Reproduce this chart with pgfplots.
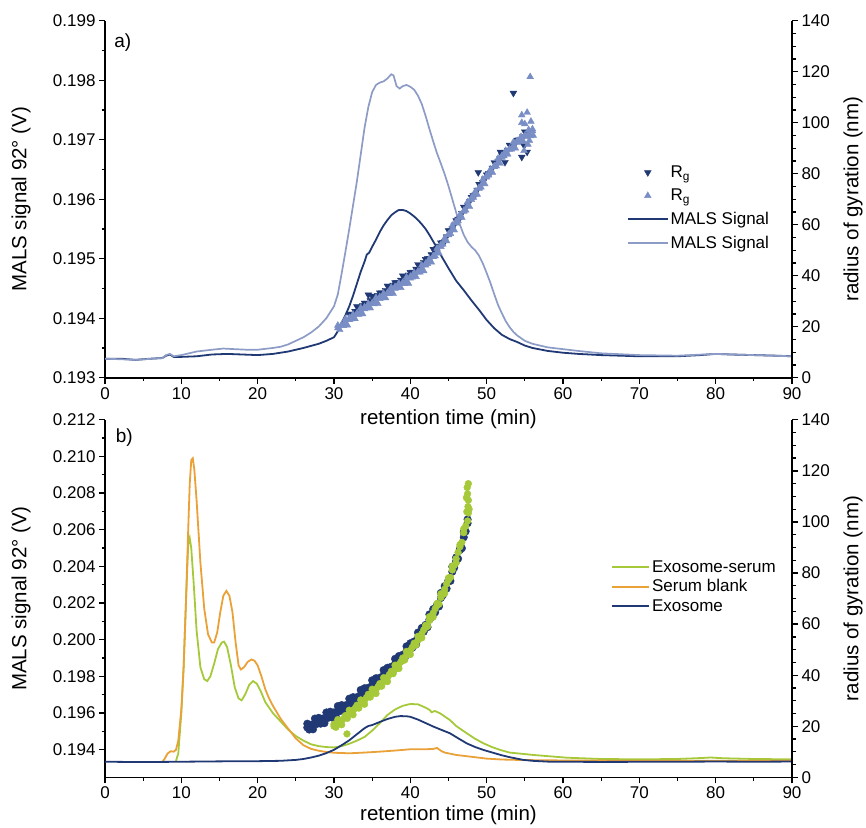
\documentclass[border=0pt]{standalone}
\usepackage{fontspec}
\setmainfont{Liberation Sans}
\usepackage{pgfplots}
\pgfplotsset{compat=1.18}
\definecolor{dkblue}{RGB}{32,57,116}
\definecolor{ltline}{RGB}{140,156,198}
\definecolor{ltmark}{RGB}{122,142,198}
\definecolor{grn}{RGB}{166,201,58}
\definecolor{orng}{RGB}{233,161,56}
\pgfplotsset{legend image code/.code={\draw[mark repeat=2,mark phase=2,#1] plot coordinates {(0pt,0pt) (20pt,0pt) (40pt,0pt)};}}
\pgfplotsset{
  base/.style={
    scale only axis, width=687pt,
    xmin=0, xmax=90,
    /pgf/number format/assume math mode=true,
    tick label style={font=\fontsize{17}{19}\selectfont},
    label style={font=\fontsize{20.5}{23}\selectfont},
    tick align=outside,
    major tick length=6pt, minor tick length=3.5pt,
    every tick/.style={black, line width=1.3pt},
    axis line style={black, line width=1.6pt},
    scaled y ticks=false,
  },
  leftax/.style={base,
    axis x line*=bottom, axis y line*=left,
    xtick={0,10,...,90}, minor x tick num=1,
    xlabel={retention time (min)},
    ylabel={MALS signal 92° (V)},
    ylabel style={at={(axis description cs:-0.122,0.5)}, anchor=center},
    yticklabel style={/pgf/number format/.cd, fixed, fixed zerofill, precision=3},
  },
  rightax/.style={base,
    axis x line=none, axis y line*=right,
    ymin=0, ymax=140, ytick={0,20,...,140}, minor y tick num=3,
    ylabel={radius of gyration (nm)},
    ylabel style={at={(axis description cs:1.089,0.5)}, anchor=center},
  },
}
\begin{document}
\begin{tikzpicture}
\path[use as bounding box] (0pt,0pt) rectangle (866pt,-827pt);
% ---------------- panel a ----------------
\begin{axis}[leftax, at={(105pt,-377.7pt)}, anchor=south west, height=357pt,
  ymin=0.193, ymax=0.199, ytick={0.193,0.194,0.195,0.196,0.197,0.198,0.199}, minor y tick num=1,
  xlabel style={at={(axis description cs:0.5,-0.117)}, anchor=center}]
\node[font=\fontsize{19}{21}\selectfont] at (axis description cs:0.026,0.94) {a)};
\addplot[dkblue, line width=1.8pt] coordinates {
(0,0.19332) (2,0.19332) (4,0.19330) (6,0.19332) (7.5,0.19333) (8,0.19337) (8.5,0.19339) (9,0.19335)
(10,0.19335) (12,0.19336) (14,0.19339) (16,0.19340) (18,0.19339) (20,0.19338) (22,0.19340) (24,0.19344)
(26,0.19350) (28,0.19357) (29,0.19362) (30,0.19368) (30.5,0.19378) (31,0.19392) (31.5,0.19405) (32,0.19420)
(32.5,0.19438) (33,0.19458) (33.5,0.19478) (34,0.19495) (34.3,0.19507) (34.6,0.19510) (35,0.19520) (35.5,0.19532)
(36,0.19545) (36.5,0.19556) (37,0.19565) (37.5,0.19573) (38,0.19578) (38.5,0.19582) (39,0.19582) (39.5,0.19580)
(40,0.19576) (40.5,0.19571) (41,0.19565) (41.5,0.19558) (42,0.19550) (42.5,0.19540) (43,0.19529) (43.5,0.19518)
(44,0.19506) (45,0.19484) (46,0.19463) (47,0.19447) (48,0.19430) (49,0.19414) (50,0.19397) (51,0.19383)
(52,0.19372) (53,0.19365) (54,0.19360) (55,0.19354) (56,0.19350) (58,0.19345) (60,0.19342) (62,0.19340)
(65,0.19338) (70,0.19336) (75,0.19336) (78,0.19338) (80,0.19340) (82,0.19339) (85,0.19338) (88,0.19337) (90,0.19336)};
\addplot[ltline, line width=1.7pt] coordinates {
(0,0.19332) (4,0.19330) (7.5,0.19333) (8,0.19338) (8.5,0.19340) (9,0.19336) (10,0.19338) (12,0.19344)
(14,0.19347) (15.5,0.19349) (17,0.19348) (18.6,0.19347) (20,0.19347) (22,0.19350) (23,0.19352) (24,0.19356)
(25,0.19362) (26,0.19368) (27,0.19376) (28,0.19386) (29,0.19400) (30,0.19420) (30.5,0.19440) (31,0.19475)
(31.5,0.19512) (32,0.19550) (32.5,0.19590) (33,0.19630) (33.5,0.19675) (34,0.19720) (34.5,0.19755) (35,0.19780)
(35.5,0.19792) (36,0.19796) (36.5,0.19798) (37,0.19803) (37.5,0.19810) (37.8,0.19808) (38.2,0.19790) (38.6,0.19786)
(39,0.19790) (39.5,0.19792) (40,0.19789) (40.5,0.19784) (41,0.19774) (41.5,0.19760) (42,0.19740) (42.5,0.19718)
(43,0.19697) (43.5,0.19677) (44,0.19660) (44.5,0.19642) (45,0.19622) (45.5,0.19600) (46,0.19578) (46.5,0.19557)
(47,0.19540) (47.5,0.19528) (48,0.19520) (48.5,0.19514) (49,0.19505) (49.5,0.19492) (50,0.19476) (50.5,0.19459)
(51,0.19440) (51.5,0.19422) (52,0.19408) (52.5,0.19395) (53,0.19385) (53.5,0.19377) (54,0.19371) (55,0.19362)
(56,0.19357) (58,0.19351) (60,0.19348) (62,0.19345) (65,0.19341) (70,0.19338) (75,0.19337) (80,0.19340) (85,0.19338) (90,0.19336)};
\end{axis}
\begin{axis}[rightax, at={(105pt,-377.7pt)}, anchor=south west, height=357pt,
  legend style={draw=none, fill=none, font=\fontsize{17}{19}\selectfont, legend cell align=left,
    at={(axis description cs:0.755,0.605)}, anchor=north west, row sep=6pt}]
\addplot[only marks, mark=triangle*, mark size=3.9pt, mark options={rotate=180, draw=dkblue, fill=dkblue}, dkblue] coordinates {
(32,25.0) (32.5,24.8) (33,27.9) (33.5,27.5) (34,29.3) (34.5,29.0) (35,32.0) (35.5,31.5) (36,33.3) (36.5,33.0)
(37,36.0) (37.5,35.5) (38,37.3) (38.5,37.0) (39,40.0) (39.5,39.5) (40,41.3) (40.5,41.2) (41,44.4) (41.5,44.2)
(42,46.4) (42.5,46.7) (43,50.4) (43.5,50.8) (44,52.9) (44.5,53.4) (45,57.7) (45.5,58.5) (46,61.6) (46.5,62.6)
(47,66.9) (47.5,67.7) (48,70.8) (48.5,71.7) (49,75.9) (49.5,76.6) (50,79.6) (50.5,80.4) (51,84.4) (51.5,84.8)
(52,87.4) (52.5,87.7) (53,91.2) (53.5,91.1) (54,93.2) (54.5,93.2) (55,96.4) (55.5,96.0)
(32.25,25.0) (32.75,26.1) (33.25,27.2) (33.75,28.3) (34.25,29.3) (34.75,30.3) (35.25,31.3) (35.75,32.3) (36.25,33.3)
(36.75,34.3) (37.25,35.3) (37.75,36.3) (38.25,37.3) (38.75,38.3) (39.25,39.3) (39.75,40.3) (40.25,41.4) (40.75,42.6)
(41.25,43.8) (41.75,45.2) (42.25,46.7) (42.75,48.3) (43.25,50.1) (43.75,51.6) (44.25,53.0) (44.75,55.3) (45.25,57.6)
(45.75,59.9) (46.25,62.2) (46.75,64.5) (47.25,66.8) (47.75,69.1) (48.25,71.4) (48.75,73.6) (49.25,75.8) (49.75,78.0)
(50.25,80.1) (50.75,82.2) (51.25,84.1) (51.75,86.0) (52.25,87.7) (52.75,89.3) (53.25,90.7) (53.75,92.0) (54.25,93.3)
(54.75,94.6) (55.25,95.8)
(53.5,111.6) (48.9,80.5) (51.8,88.5) (54.6,86.5) (55.3,88.5) (54.9,91.0) (52.4,84.5) (34.5,32.5)};
\addlegendentry{R\textsubscript{g}}
\addplot[only marks, mark=triangle*, mark size=3.9pt, mark options={draw=ltmark, fill=ltmark}, ltmark] coordinates {
(30.5,20.5) (30.75,18.8) (31,20.8) (31.25,20.4) (31.5,23.0) (31.75,20.6) (32,23.4) (32.25,23.0) (32.5,24.8) (32.75,23.1)
(33,25.2) (33.25,24.8) (33.5,27.4) (33.75,25.0) (34,27.7) (34.25,27.3) (34.5,29.0) (34.75,27.3) (35,29.3) (35.25,28.9)
(35.5,31.4) (35.75,29.0) (36,31.7) (36.25,31.3) (36.5,33.0) (36.75,31.3) (37,33.3) (37.25,32.9) (37.5,35.4) (37.75,33.0)
(38,35.7) (38.25,35.3) (38.5,37.0) (38.75,35.3) (39,37.3) (39.25,36.9) (39.5,39.4) (39.75,37.0) (40,39.7) (40.25,39.4)
(40.5,41.2) (40.75,39.6) (41,41.7) (41.25,41.4) (41.5,44.1) (41.75,41.9) (42,44.8) (42.25,44.7) (42.5,46.7) (42.75,45.3)
(43,47.7) (43.25,47.7) (43.5,50.7) (43.75,48.8) (44,52.1) (44.25,52.3) (44.5,54.7) (44.75,53.6) (45,56.3) (45.25,56.5)
(45.5,59.7) (45.75,57.9) (46,61.3) (46.25,61.5) (46.5,63.9) (46.75,62.8) (47,65.5) (47.25,65.7) (47.5,68.9) (47.75,67.1)
(48,70.5) (48.25,70.7) (48.5,73.0) (48.75,71.9) (49,74.5) (49.25,74.7) (49.5,77.8) (49.75,76.0) (50,79.3) (50.25,79.4)
(50.5,81.7) (50.75,80.5) (51,83.0) (51.25,83.0) (51.5,86.0) (51.75,84.0) (52,87.1) (52.25,87.0) (52.5,89.0) (52.75,87.6)
(53,89.8) (53.25,89.6) (53.5,92.3) (53.75,90.0) (54,92.9) (54.25,92.6) (54.5,94.5) (54.75,92.9) (55,95.0) (55.25,94.6)
(55.5,97.2) (55.75,94.8) (56,97.5)
(30.5,19.5) (31,20.5) (31.5,21.6) (32,22.7) (32.5,23.8) (33,24.9) (33.5,26.0) (34,27.0) (34.5,28.0) (35,29.0)
(35.5,30.0) (36,31.0) (36.5,32.0) (37,33.0) (37.5,34.0) (38,35.0) (38.5,36.0) (39,37.0) (39.5,38.0) (40,39.0)
(40.5,40.2) (41,41.4) (41.5,42.7) (42,44.1) (42.5,45.7) (43,47.4) (43.5,49.3) (44,51.4) (44.5,53.7) (45,56.0)
(45.5,58.3) (46,60.6) (46.5,62.9) (47,65.2) (47.5,67.5) (48,69.8) (48.5,72.0) (49,74.2) (49.5,76.4) (50,78.6)
(50.5,80.7) (51,82.7) (51.5,84.6) (52,86.4) (52.5,88.0) (53,89.5) (53.5,90.9) (54,92.2) (54.5,93.5) (55,94.7)
(55.5,95.8) (56,96.8)
(55.7,118.0) (55.3,104.0) (54.6,103.0) (54.6,100.0) (55.0,99.5) (55.8,100.5) (56.1,95.0) (55.4,91.5) (54.9,89.0) (55.6,93.0)};
\addlegendentry{R\textsubscript{g}}
\addlegendimage{dkblue, line width=1.8pt}
\addlegendentry{MALS Signal}
\addlegendimage{ltline, line width=1.7pt}
\addlegendentry{MALS Signal}
\end{axis}
% ---------------- panel b ----------------
\begin{axis}[leftax, at={(105pt,-777.3pt)}, anchor=south west, height=357.5pt,
  ymin=0.1925, ymax=0.212, ytick={0.194,0.196,0.198,0.200,0.202,0.204,0.206,0.208,0.210,0.212}, minor y tick num=1,
  xlabel style={at={(axis description cs:0.5,-0.107)}, anchor=center},
  legend style={draw=none, fill=none, font=\fontsize{17}{19}\selectfont, legend cell align=left,
    at={(axis description cs:0.732,0.6185)}, anchor=north west, row sep=2pt},
  legend image code/.code={\draw[#1, line width=2pt] (0pt,0pt) -- (37pt,0pt);}]
\node[font=\fontsize{19}{21}\selectfont] at (axis description cs:0.028,0.949) {b)};
\addplot[grn, line width=1.8pt] coordinates {
(9.3,0.19340) (9.6,0.19380) (10.0,0.19600) (10.3,0.19850) (10.6,0.20200) (10.9,0.20520) (11.1,0.20555) (11.3,0.20500)
(11.6,0.20320) (12.0,0.20050) (12.5,0.19850) (13.0,0.19785) (13.4,0.19775) (13.8,0.19800) (14.3,0.19870) (14.8,0.19950)
(15.3,0.19985) (15.6,0.19990) (16.0,0.19960) (16.5,0.19860) (17.0,0.19740) (17.5,0.19680) (17.9,0.19670) (18.4,0.19705)
(18.9,0.19755) (19.4,0.19775) (19.9,0.19760) (20.4,0.19720) (21.0,0.19660) (22.0,0.19600) (23.0,0.19555) (24.0,0.19510)
(25.0,0.19475) (26.0,0.19450) (27.0,0.19430) (28.0,0.19420) (29.0,0.19415) (30.0,0.19413) (31.0,0.19420) (32.0,0.19433)
(33.0,0.19450) (34.0,0.19470) (35.0,0.19505) (36.0,0.19545) (37.0,0.19590) (38.0,0.19620) (39.0,0.19640) (40.0,0.19650)
(41.0,0.19648) (42.0,0.19630) (42.5,0.19618) (42.8,0.19605) (43.2,0.19612) (43.9,0.19599) (45.2,0.19562) (46.0,0.19530)
(47.4,0.19490) (48.5,0.19460) (49.6,0.19435) (50.7,0.19415) (51.8,0.19399) (53.0,0.19385) (56.1,0.19372) (60.5,0.19357)
(65.0,0.19350) (70.0,0.19348) (75.0,0.19350) (78.0,0.19355) (79.3,0.19358) (81.0,0.19354) (85.0,0.19350) (90.0,0.19348)};
\addlegendentry{Exosome-serum}
\addplot[orng, line width=1.8pt] coordinates {
(7.5,0.19335) (7.8,0.19350) (8.2,0.19380) (8.6,0.19392) (9.0,0.19390) (9.3,0.19400) (9.6,0.19450) (10.0,0.19620)
(10.3,0.19850) (10.6,0.20200) (10.9,0.20600) (11.1,0.20850) (11.3,0.20980) (11.5,0.20990) (11.7,0.20930) (12.0,0.20760)
(12.5,0.20420) (13.0,0.20170) (13.5,0.20030) (14.0,0.19985) (14.3,0.19985) (14.7,0.20040) (15.1,0.20150) (15.5,0.20240)
(15.9,0.20267) (16.3,0.20240) (16.7,0.20150) (17.1,0.19990) (17.5,0.19860) (17.8,0.19838) (18.2,0.19850) (18.7,0.19880)
(19.2,0.19893) (19.6,0.19885) (20.0,0.19860) (20.5,0.19800) (21.0,0.19730) (21.5,0.19680) (22.0,0.19640) (23.0,0.19570)
(24.0,0.19515) (25.0,0.19462) (26.0,0.19425) (27.0,0.19405) (28.0,0.19395) (29.0,0.19388) (30.0,0.19384) (32.0,0.19381)
(34.0,0.19385) (36.0,0.19390) (38.0,0.19396) (40.0,0.19403) (42.0,0.19403) (43.0,0.19405) (43.5,0.19410) (44.0,0.19395)
(44.5,0.19385) (46.0,0.19372) (48.0,0.19362) (50.0,0.19352) (52.0,0.19347) (54.0,0.19345) (57.0,0.19343) (60.0,0.19342)
(70.0,0.19340) (80.0,0.19340) (90.0,0.19340)};
\addlegendentry{Serum blank}
\addplot[dkblue, line width=1.8pt] coordinates {
(0,0.19335) (5,0.19333) (10,0.19335) (15,0.19337) (20,0.19338) (23,0.19340) (25,0.19345) (26,0.19350)
(27,0.19358) (28,0.19368) (29,0.19382) (30,0.19400) (31,0.19425) (32,0.19452) (33,0.19485) (34,0.19518)
(34.5,0.19530) (35,0.19535) (36,0.19552) (37,0.19568) (38,0.19580) (38.7,0.19584) (39.5,0.19583) (40,0.19580)
(41,0.19565) (42,0.19546) (43,0.19527) (44,0.19510) (45.2,0.19490) (46.3,0.19462) (47.4,0.19435) (48.5,0.19415)
(49.6,0.19399) (51,0.19382) (52,0.19370) (53,0.19360) (54.8,0.19345) (56,0.19340) (58.3,0.19335) (65,0.19334)
(75,0.19335) (80,0.19336) (85,0.19335) (90,0.19336)};
\addlegendentry{Exosome}
\end{axis}
\begin{axis}[rightax, at={(105pt,-777.3pt)}, anchor=south west, height=357.5pt]
\addplot[only marks, mark=*, mark size=3.8pt, mark options={draw=dkblue, fill=dkblue}] coordinates {
(26.5,21.0) (26.75,18.7) (27,20.6) (27.25,18.8) (27.5,23.0) (27.75,20.9) (28,23.3) (28.25,21.0) (28.5,23.0) (28.75,21.2)
(29,25.4) (29.25,23.3) (29.5,25.7) (29.75,23.4) (30,25.4) (30.25,23.7) (30.5,27.9) (30.75,25.9) (31,28.3) (31.25,26.1)
(31.5,28.2) (31.75,26.5) (32,30.8) (32.25,28.9) (32.5,31.4) (32.75,29.3) (33,31.4) (33.25,29.8) (33.5,34.2) (33.75,32.3)
(34,34.9) (34.25,32.9) (34.5,35.1) (34.75,33.6) (35,38.0) (35.25,36.2) (35.5,38.8) (35.75,36.8) (36,39.0) (36.25,37.5)
(36.5,42.0) (36.75,40.2) (37,42.9) (37.25,41.0) (37.5,43.3) (37.75,41.9) (38,46.4) (38.25,44.7) (38.5,47.5) (38.75,45.6)
(39,48.0) (39.25,46.7) (39.5,51.3) (39.75,49.7) (40,52.5) (40.25,50.7) (40.5,53.2) (40.75,52.0) (41,56.7) (41.25,55.4)
(41.5,58.5) (41.75,57.0) (42,59.7) (42.25,58.8) (42.5,63.8) (42.75,62.6) (43,65.9) (43.25,64.6) (43.5,67.6) (43.75,66.9)
(44,72.2) (44.25,71.3) (44.5,74.9) (44.75,73.9) (45,77.2) (45.25,76.9) (45.5,82.5) (45.75,82.1) (46,86.1) (46.25,85.6)
(46.5,89.4) (46.75,89.7) (47,96.0) (47.25,96.3) (47.5,101.0)
(26.5,19.5) (27,20.2) (27.5,21.0) (28,21.8) (28.5,22.6) (29,23.4) (29.5,24.2) (30,25.0) (30.5,25.9) (31,26.8)
(31.5,27.8) (32,28.8) (32.5,29.9) (33,31.0) (33.5,32.2) (34,33.4) (34.5,34.7) (35,36.0) (35.5,37.3) (36,38.6)
(36.5,40.0) (37,41.4) (37.5,42.9) (38,44.4) (38.5,46.0) (39,47.6) (39.5,49.3) (40,51.0) (40.5,52.8) (41,54.7)
(41.5,57.0) (42,59.3) (42.5,61.8) (43,64.4) (43.5,67.2) (44,70.2) (44.5,73.4) (45,76.8) (45.5,80.5) (46,84.6)
(46.5,89.0) (47,94.0) (47.5,99.5)};
\addplot[only marks, mark=*, mark size=3.4pt, mark options={draw=grn, fill=grn}] coordinates {
(30,20.8) (30.25,19.6) (30.5,22.6) (30.75,21.3) (31,20.6) (31.25,23.0) (31.5,24.2) (31.75,23.1) (32,26.3) (32.25,25.1)
(32.5,24.5) (32.75,27.0) (33,28.2) (33.25,27.1) (33.5,30.3) (33.75,29.1) (34,28.6) (34.25,31.2) (34.5,32.5) (34.75,31.4)
(35,34.5) (35.25,33.4) (35.5,32.8) (35.75,35.4) (36,36.7) (36.25,35.7) (36.5,39.0) (36.75,37.9) (37,37.5) (37.25,40.2)
(37.5,41.5) (37.75,40.6) (38,43.9) (38.25,42.9) (38.5,42.6) (38.75,45.2) (39,46.7) (39.25,45.9) (39.5,49.3) (39.75,48.4)
(40,48.1) (40.25,50.9) (40.5,52.5) (40.75,51.8) (41,55.2) (41.25,54.6) (41.5,54.6) (41.75,57.7) (42,59.5) (42.25,59.1)
(42.5,62.9) (42.75,62.5) (43,62.8) (43.25,66.0) (43.5,68.1) (43.75,67.8) (44,71.9) (44.25,71.6) (44.5,72.1) (44.75,75.7)
(45,78.1) (45.25,78.3) (45.5,82.7) (45.75,83.0) (46,84.0) (46.25,88.1) (46.5,91.1) (46.75,92.0) (47,97.3) (47.25,98.4)
(47.5,100.4) (47.6,103.5) (47.55,106.0) (47.6,108.5) (47.5,111.0) (47.45,113.5) (47.6,115.0) (47.35,109.5) (47.7,105.0)
(47.4,104.0) (31.7,17.0)
(30,20.0) (30.5,21.1) (31,22.2) (31.5,23.4) (32,24.8) (32.5,26.1) (33,27.4) (33.5,28.8) (34,30.2) (34.5,31.7)
(35,33.0) (35.5,34.4) (36,35.9) (36.5,37.5) (37,39.1) (37.5,40.7) (38,42.4) (38.5,44.2) (39,45.9) (39.5,47.8)
(40,49.7) (40.5,51.7) (41,53.7) (41.5,56.2) (42,58.7) (42.5,61.4) (43,64.4) (43.5,67.3) (44,70.4) (44.5,73.7)
(45,77.3) (45.5,81.2) (46,85.6) (46.5,90.3) (47,95.8)};
\end{axis}
\end{tikzpicture}
\end{document}
